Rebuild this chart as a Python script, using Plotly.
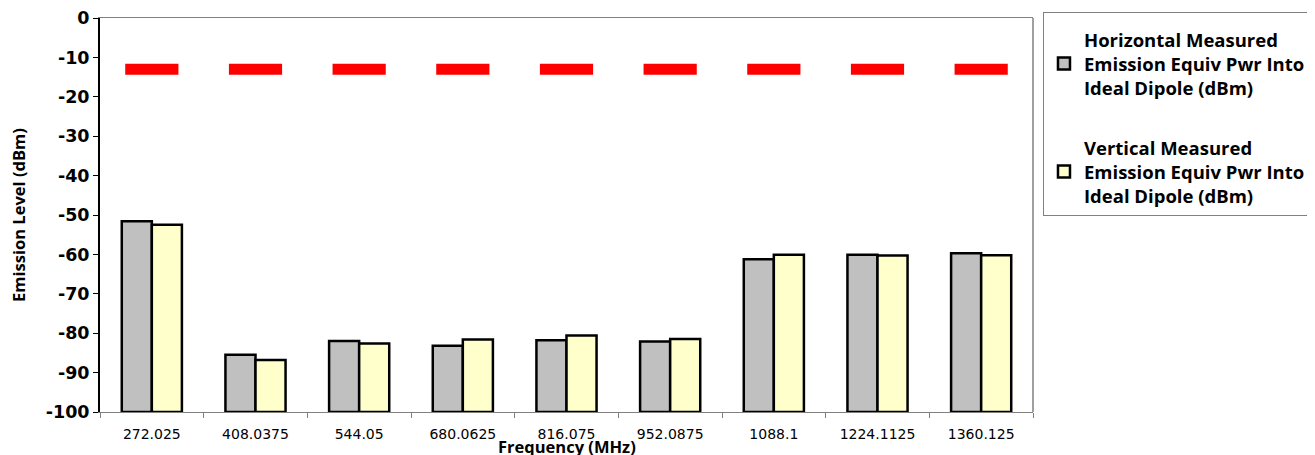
import plotly.graph_objects as go

categories = ["272.025", "408.0375", "544.05", "680.0625", "816.075",
              "952.0875", "1088.1", "1224.1125", "1360.125"]
horizontal = [-51.6, -85.5, -82.0, -83.2, -81.8, -82.1, -61.2, -60.1, -59.7]
vertical = [-52.5, -86.8, -82.6, -81.6, -80.6, -81.5, -60.1, -60.3, -60.2]
limit = [-13, -13, -13, -13, -13, -13, -13, -13, -13]
y_floor = -100
y_tick_values = [0, -10, -20, -30, -40, -50, -60, -70, -80, -90, -100]
y_tick_labels = ["0", "-10", "-20", "-30", "-40", "-50", "-60", "-70", "-80", "-90", "-100"]

h_name = "<b>Horizontal Measured<br>Emission Equiv Pwr Into<br>Ideal Dipole (dBm)</b>"
v_name = "<b>Vertical Measured<br>Emission Equiv Pwr Into<br>Ideal Dipole (dBm)</b>"

fig = go.Figure()
fig.add_trace(go.Bar(x=categories, y=[v - y_floor for v in horizontal], base=y_floor,
                     name=h_name, legendgroup="h",
                     marker=dict(color="#C0C0C0", line=dict(color="black", width=2.5))))
fig.add_trace(go.Bar(x=categories, y=[v - y_floor for v in vertical], base=y_floor,
                     name=v_name, legendgroup="v",
                     marker=dict(color="#FFFFCC", line=dict(color="black", width=2.5))))
fig.add_trace(go.Scatter(x=categories, y=limit, mode="markers", showlegend=False,
                         marker=dict(symbol="line-ew", size=38,
                                     line=dict(color="#FF0000", width=11))))

# page body has an 8px margin, so the figure is 8px smaller than the window
fig.update_layout(
    width=1307, height=447,
    margin=dict(l=92, r=282, t=10, b=43, autoexpand=False),
    paper_bgcolor="white", plot_bgcolor="white",
    barmode="group", bargap=0.42, bargroupgap=0,
    font=dict(family="Open Sans", color="black"),
    legend=dict(x=1.0107, y=1.015, xanchor="left", yanchor="top",
                bordercolor="#808080", borderwidth=1,
                font=dict(family="Open Sans", size=18.5, color="black"),
                title=dict(text=" ", font=dict(size=6)),
                tracegroupgap=33, traceorder="grouped"),
    xaxis=dict(type="category", range=[-0.5, len(categories) - 0.5],
               showline=True, linecolor="#808080", linewidth=1,
               ticks="outside", tickson="boundaries", ticklen=5, tickcolor="#808080",
               tickfont=dict(family="DejaVu Sans", size=14, color="black"),
               ticklabelstandoff=9,
               showgrid=False, mirror=True),
    yaxis=dict(range=[-100, 0], tickmode="array", tickvals=y_tick_values,
               ticktext=y_tick_labels, showline=True, linecolor="black", linewidth=2,
               ticks="outside", ticklen=5, tickcolor="black",
               tickfont=dict(family="DejaVu Sans", size=17.5, color="black", weight="bold"),
               showgrid=False, zeroline=False),
    shapes=[dict(type="line", xref="paper", yref="paper", x0=1, x1=1, y0=0, y1=1,
                 line=dict(color="#808080", width=1.5))],
    annotations=[
        dict(text="<b>Frequency (MHz)</b>", xref="paper", yref="paper", x=0.5, y=-0.088,
             xanchor="center", yanchor="middle", showarrow=False,
             font=dict(family="Open Sans", size=16.5, color="black")),
        dict(text="<b>Emission Level (dBm)</b>", xref="paper", yref="paper", x=-0.088, y=0.5,
             xanchor="center", yanchor="middle", showarrow=False, textangle=-90,
             font=dict(family="Open Sans", size=16.5, color="black")),
    ],
)

fig.write_html("out.html")
